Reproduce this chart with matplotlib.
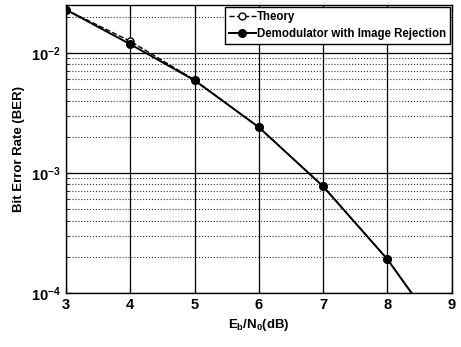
import matplotlib
matplotlib.use("Agg")
import matplotlib.pyplot as plt
from matplotlib.ticker import LogLocator, NullFormatter

plt.rcParams['font.family'] = ['Liberation Sans', 'DejaVu Sans']
plt.rcParams['font.weight'] = 'bold'
plt.rcParams['mathtext.fontset'] = 'custom'
plt.rcParams['mathtext.rm'] = 'Liberation Sans:bold'
plt.rcParams['mathtext.it'] = 'Liberation Sans:bold'
plt.rcParams['mathtext.bf'] = 'Liberation Sans:bold'
plt.rcParams['mathtext.default'] = 'rm'

ebno_db = [3, 4, 5, 6, 7, 8, 9]
ber_theory = [0.0229, 0.0125, 0.00595, 0.00239, 0.000773, 0.000191, 0.0000336]
ber_demod = [0.0229, 0.0118, 0.0059, 0.0024, 0.00077, 0.00019, 0.0000340]

fig = plt.figure(figsize=(4.61, 3.47), dpi=100)
ax = fig.add_axes([0.143, 0.156, 0.837, 0.830])

ax.semilogy(ebno_db, ber_theory, linestyle='--', color='black', linewidth=1.0,
            marker='o', markersize=5, markerfacecolor='white', markeredgecolor='black',
            label='Theory')
ax.semilogy(ebno_db, ber_demod, linestyle='-', color='black', linewidth=1.4,
            marker='o', markersize=5.5, markerfacecolor='black', markeredgecolor='black',
            label='Demodulator with Image Rejection')

ax.set_xlim(3, 9)
ax.set_ylim(1e-4, 0.0251)
ax.set_xticks(range(3, 10))
ax.yaxis.set_major_locator(LogLocator(base=10, numticks=10))
ax.yaxis.set_minor_locator(LogLocator(base=10, subs=range(2, 10), numticks=20))
ax.yaxis.set_minor_formatter(NullFormatter())

ax.grid(True, which='major', color='black', linestyle='-', linewidth=0.9)
ax.grid(True, which='minor', axis='y', color='#333333', linestyle=':', linewidth=0.8)
ax.tick_params(which='both', direction='in', top=True, right=True, labelsize=10.5)
ax.tick_params(which='major', length=4)
ax.tick_params(which='minor', length=2)
for s in ax.spines.values():
    s.set_linewidth(1.0)

ax.set_xlabel(r'E$_{\mathrm{b}}$/N$_{\mathrm{0}}$(dB)', fontsize=9.5, fontweight='bold')
ax.set_ylabel('Bit Error Rate (BER)', fontsize=9.5, fontweight='bold')

leg = ax.legend(loc='upper right', fontsize=8.3, frameon=True, fancybox=False,
                edgecolor='black', framealpha=1, borderpad=0.35, labelspacing=0.45,
                handlelength=2.3, handletextpad=0.1, borderaxespad=0.15)
leg.get_frame().set_linewidth(1.0)

fig.savefig('out.png', dpi=100)
